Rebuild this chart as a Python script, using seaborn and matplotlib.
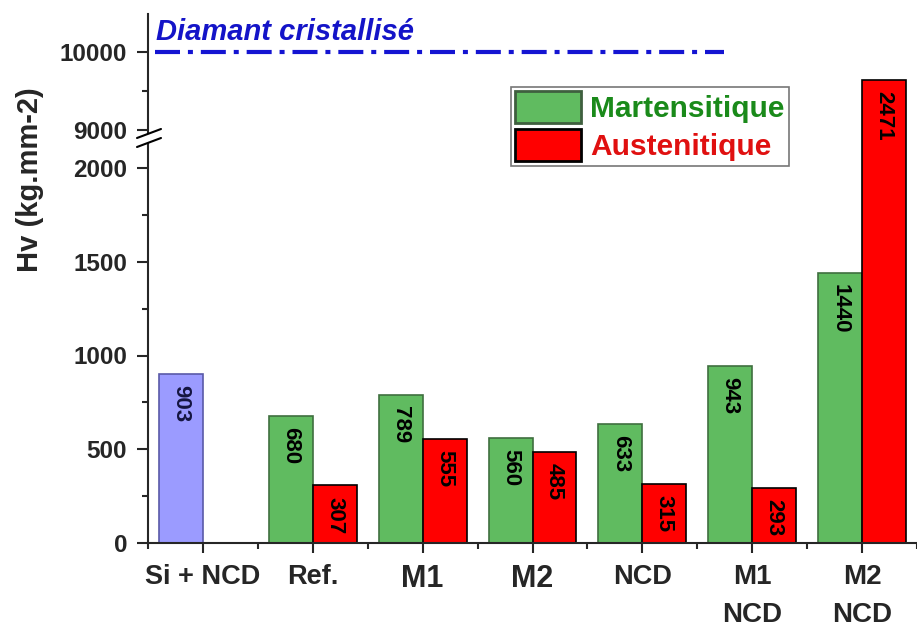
import matplotlib
matplotlib.use("Agg")
import matplotlib.pyplot as plt
from matplotlib.lines import Line2D
from matplotlib.patches import Patch
import numpy as np
import pandas as pd
import seaborn as sns

# Vickers hardness per sample (kg.mm-2)
categories = ["Si + NCD", "Ref.", "M1", "M2", "NCD", "M1\nNCD", "M2\nNCD"]
martensitique = [903, 680, 789, 560, 633, 943, 1440]   # first slot: Si + NCD reference
austenitique = [np.nan, 307, 555, 485, 315, 293, 2471]
diamant_hv = 10000

phases = ["Martensitique", "Austenitique"]
colors = {"Martensitique": "#60bb60", "Austenitique": "#ff0000"}
edges = {"Martensitique": "#3f6f3f", "Austenitique": "#000000"}
si_color = "#9b9bff"
si_edge = "#5a5aa8"

sns.set_theme(style="ticks")
plt.rcParams["font.family"] = ["Liberation Sans", "DejaVu Sans"]
plt.rcParams["font.weight"] = "bold"

df = pd.DataFrame({
    "sample": categories * 2,
    "phase": ["Martensitique"] * len(categories) + ["Austenitique"] * len(categories),
    "hv": martensitique + austenitique,
}).dropna()

W, H = 917, 627
fig = plt.figure(figsize=(W / 100, H / 100), dpi=100)

# lower (main) axes: 0 .. ~2800 with the spine stopping at the break
ax = fig.add_axes([148 / W, 1 - 543 / H, (W - 148) / W, (543 - 14) / H])
sns.barplot(data=df, x="sample", y="hv", hue="phase", order=categories,
            hue_order=phases, palette=colors, saturation=1, width=0.8, ax=ax,
            legend=False, errorbar=None, linewidth=1.2)
ax.set_xlim(-0.5, len(categories) - 0.5)
ax.set_ylim(0, (543 - 14) / 0.1875)

for phase, cont in zip(phases, ax.containers):
    for bar in cont:
        h = bar.get_height()
        if not np.isfinite(h) or h <= 0:
            continue
        xc = bar.get_x() + bar.get_width() / 2
        if phase == "Martensitique" and round(xc + 0.2) == 0:
            bar.set_facecolor(si_color)
            bar.set_edgecolor(si_edge)
            tcol = "#141440"
        else:
            bar.set_edgecolor(edges[phase])
            tcol = "black"
        ax.annotate(f"{h:.0f}", (xc, h), xytext=(0, -8), textcoords="offset points",
                    rotation=-90, ha="center", va="top", fontsize=16,
                    fontweight="bold", color=tcol)

for s in ["top", "right"]:
    ax.spines[s].set_visible(False)
ax.spines["left"].set_linewidth(1.5)
ax.spines["bottom"].set_linewidth(1.5)
ax.spines["left"].set_bounds(0, 2130)
ax.set_yticks([0, 500, 1000, 1500, 2000])
ax.set_yticks(np.arange(250, 2001, 500), minor=True)
ax.set_xticks(np.arange(-0.5, len(categories), 1.0), minor=True)
ax.tick_params(axis="y", which="major", length=8, width=1.5, labelsize=17.5, pad=7)
ax.tick_params(axis="y", which="minor", length=4, width=1.5)
ax.tick_params(axis="x", which="major", length=7, width=1.5, pad=8)
ax.tick_params(axis="x", which="minor", length=4, width=1.5)
ax.set_xticks(range(len(categories)))
ax.set_xticklabels(categories, linespacing=1.6)
sizes = [19.5, 19.5, 22, 22, 19.5, 20, 20]
for lab, fs in zip(ax.get_xticklabels(), sizes):
    lab.set_fontsize(fs)
    lab.set_fontweight("bold")
for lab in ax.get_yticklabels():
    lab.set_fontweight("bold")
ax.set_xlabel("")
ax.set_ylabel("")
fig.text(30 / W, 1 - 180 / H, "Hv (kg.mm-2)", rotation=90, ha="center", va="center",
         fontsize=21, fontweight="bold")

# upper axes above the break
ax2 = fig.add_axes([148 / W, 1 - 140 / H, (W - 148) / W, (140 - 14) / H], sharex=ax)
ax2.patch.set_visible(False)
ax2.set_ylim(9000 - 10 / 0.078, 10000 + 38 / 0.078)
for s in ["top", "right", "bottom"]:
    ax2.spines[s].set_visible(False)
ax2.spines["left"].set_linewidth(1.5)
ax2.spines["left"].set_bounds(9000 - 3 / 0.078, 10000 + 38 / 0.078)
ax2.set_yticks([9000, 10000])
ax2.set_yticks([9500], minor=True)
ax2.tick_params(axis="y", which="major", length=8, width=1.5, labelsize=17.5, pad=7)
ax2.tick_params(axis="y", which="minor", length=4, width=1.5)
ax2.tick_params(axis="x", which="both", bottom=False, labelbottom=False)
for lab in ax2.get_yticklabels():
    lab.set_fontweight("bold")

ax2.hlines(diamant_hv, -0.44, 4.74, colors="#1414d2", linewidth=3,
           linestyles=[(0, (6.0, 1.9, 1.2, 1.9))])
ax2.annotate("Diamant cristallisé", (-0.43, diamant_hv), xytext=(0, 4),
             textcoords="offset points", ha="left", va="bottom", fontsize=21,
             fontweight="bold", fontstyle="italic", color="#1414c8")

# axis break marks
for y0 in (138, 147):
    fig.add_artist(Line2D([137 / W, 161 / W], [1 - y0 / H, 1 - (y0 - 9) / H],
                          color="black", linewidth=1.5))

handles = [Patch(facecolor=colors["Martensitique"], edgecolor="#3f5f3f", linewidth=2),
           Patch(facecolor=colors["Austenitique"], edgecolor="black", linewidth=2)]
leg = ax2.legend(handles, phases, loc="upper left",
                 bbox_to_anchor=(511 / W, 1 - 87 / H), bbox_transform=fig.transFigure,
                 fontsize=21.5, frameon=True, fancybox=False, edgecolor="#555555",
                 handlelength=2.2, handleheight=1.25, handletextpad=0.3,
                 labelspacing=0.2, borderpad=0.15, borderaxespad=0)
leg.get_frame().set_linewidth(1.2)
for txt, c in zip(leg.get_texts(), ["#1a8a1a", "#e01010"]):
    txt.set_color(c)
    txt.set_fontweight("bold")

fig.savefig("out.png", dpi=100, facecolor="white")
